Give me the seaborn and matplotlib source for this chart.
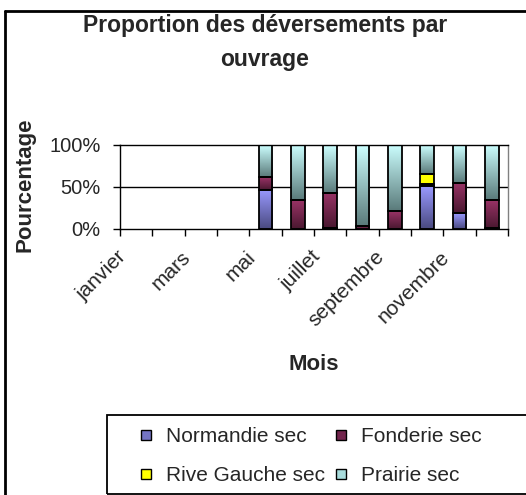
import matplotlib
matplotlib.use("Agg")
import matplotlib.pyplot as plt
import matplotlib.transforms as mtransforms
from matplotlib.colors import to_rgb
from matplotlib.lines import Line2D
from matplotlib.patches import Rectangle
import numpy as np
import pandas as pd
import seaborn as sns

sns.set_style("white")
plt.rcParams["font.family"] = ["Liberation Sans", "DejaVu Sans"]

MONTHS = ["janvier", "février", "mars", "avril", "mai", "juin", "juillet",
          "août", "septembre", "octobre", "novembre", "décembre"]
SERIES = ["Normandie sec", "Fonderie sec", "Rive Gauche sec", "Prairie sec"]

# share of overflows (%) per month
normandie = [0, 0, 0, 0, 47, 0, 1, 0, 0, 51, 19, 1]
fonderie  = [0, 0, 0, 0, 15, 34, 42, 4, 21, 3, 36, 33]
rive      = [0, 0, 0, 0, 0, 0, 0, 0, 0, 12, 0, 0]
prairie   = [0, 0, 0, 0, 38, 66, 57, 96, 79, 34, 45, 66]

# (top colour, bottom colour) of the Excel-like gradient
GRADIENTS = {
    "Normandie sec": ("#9999FF", "#4A4A80"),
    "Fonderie sec": ("#993366", "#4A1830"),
    "Rive Gauche sec": ("#FFFF00", "#FFFF00"),
    "Prairie sec": ("#CCFFFF", "#5A7A7A"),
}
LEGEND_COLORS = {
    "Normandie sec": "#7474C4",
    "Fonderie sec": "#72244C",
    "Rive Gauche sec": "#FFFF00",
    "Prairie sec": "#A8DCDC",
}

W, H = 526, 495


def shade(ax, patches, top, bottom):
    top, bottom = np.array(to_rgb(top)), np.array(to_rgb(bottom))
    t = np.linspace(0, 1, 64)[:, None, None]
    grad = bottom + (top - bottom) * t
    for p in patches:
        h = p.get_height()
        if h <= 0:
            p.set_visible(False)
            continue
        x0, y0, w = p.get_x(), p.get_y(), p.get_width()
        im = ax.imshow(grad, extent=(x0, x0 + w, y0, y0 + h), origin="lower",
                       aspect="auto", zorder=0.9, interpolation="bilinear")
        im.set_clip_path(p)
        p.set_facecolor("none")


df = pd.DataFrame({"mois": MONTHS, "Normandie sec": normandie,
                   "Fonderie sec": fonderie, "Rive Gauche sec": rive,
                   "Prairie sec": prairie})

fig = plt.figure(figsize=(W / 100, H / 100), dpi=100)
ax = fig.add_axes([120 / W, 1 - 229 / H, 388 / W, 84 / H])

base = np.zeros(len(MONTHS))
for name in SERIES:
    n0 = len(ax.patches)
    sns.barplot(data=df, x="mois", y=name, order=MONTHS, bottom=base.copy(),
                width=0.42, edgecolor="black", linewidth=1.3, errorbar=None,
                color=GRADIENTS[name][0], ax=ax)
    shade(ax, ax.patches[n0:], *GRADIENTS[name])
    base = base + df[name].to_numpy()

ax.set_xlim(-0.5, 11.5)
ax.set_ylim(0, 100)
ax.axhline(50, color="black", lw=1, zorder=0.5)

ax.set_yticks([0, 50, 100])
ax.set_yticklabels(["0%", "50%", "100%"])
ax.tick_params(axis="y", length=5, width=1, color="black", pad=9,
               labelsize=14.5, direction="out", left=True)

ax.set_xticks(range(len(MONTHS)))
ax.set_xticklabels([m if i % 2 == 0 else "" for i, m in enumerate(MONTHS)])
ax.set_xticks(np.arange(-0.5, len(MONTHS), 1), minor=True)
ax.tick_params(axis="x", which="major", length=0, pad=18, labelsize=15)
ax.tick_params(axis="x", which="minor", length=5, width=1, color="black",
               direction="out", bottom=True)
offset = mtransforms.ScaledTranslation(-13 / 100, 0, fig.dpi_scale_trans)
for lab in ax.get_xticklabels():
    lab.set_rotation(45)
    lab.set_ha("right")
    lab.set_va("center")
    lab.set_rotation_mode("anchor")
    lab.set_transform(lab.get_transform() + offset)

for side in ["left", "bottom", "top"]:
    ax.spines[side].set_color("black")
    ax.spines[side].set_linewidth(1)
ax.spines["right"].set_color("#808080")
ax.spines["right"].set_linewidth(1)
ax.set_xlabel("")
ax.set_ylabel("")

fig.text(265 / W, 1 - 32 / H, "Proportion des déversements par",
         ha="center", va="baseline", fontsize=16.5, fontweight="bold")
fig.text(265 / W, 1 - 66 / H, "ouvrage",
         ha="center", va="baseline", fontsize=16.5, fontweight="bold")
fig.text(25 / W, 1 - 185 / H, "Pourcentage", rotation=90, ha="center",
         va="center", fontsize=16, fontweight="bold")
fig.text(314 / W, 1 - 364 / H, "Mois", ha="center", va="center",
         fontsize=16, fontweight="bold")

handles = [Line2D([], [], ls="none", marker="s", markersize=7,
                  markerfacecolor=LEGEND_COLORS[s], markeredgecolor="black",
                  markeredgewidth=1) for s in SERIES]
order = [0, 2, 1, 3]
fig.legend([handles[i] for i in order], [SERIES[i] for i in order], ncol=2,
           loc="upper left", bbox_to_anchor=(136 / W, 1 - 427 / H),
           frameon=False, fontsize=15, handlelength=1.0, handletextpad=0.45,
           columnspacing=0.25, labelspacing=0.95, borderpad=0, borderaxespad=0)
# legend box, cut by the right and bottom edges of the picture
fig.add_artist(Rectangle((107 / W, 1 / H), 1, (494 - 415) / H,
                         transform=fig.transFigure, fill=False,
                         edgecolor="black", lw=1.3, clip_on=False))

# chart-area border (only left and top edges fall inside the picture)
fig.add_artist(Line2D([5 / W, 5 / W], [0, 1 - 11 / H], color="black", lw=2,
                      transform=fig.transFigure))
fig.add_artist(Line2D([5 / W, 1], [1 - 11 / H, 1 - 11 / H], color="black",
                      lw=2, transform=fig.transFigure))

fig.savefig("out.png", dpi=100)
